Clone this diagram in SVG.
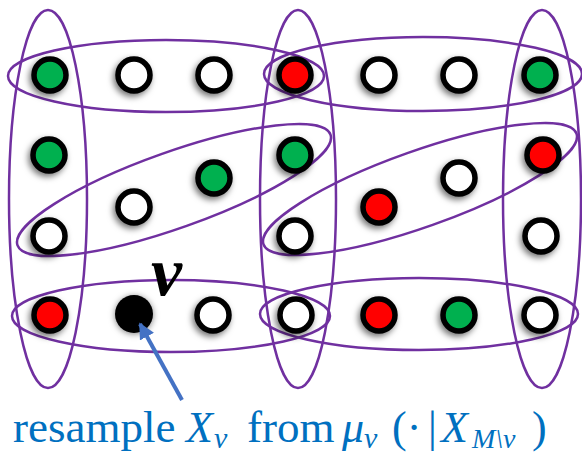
<svg xmlns="http://www.w3.org/2000/svg" width="582" height="455" viewBox="0 0 582 455">
<style>
.edge{fill:none;stroke:#7030A0;stroke-width:2.5}
.n{stroke:#000;stroke-width:5.5;filter:url(#sh)}
.w{fill:#fff}
.g{fill:#00B050}
.r{fill:#FF0000}
.t{font-family:"Liberation Serif",serif;fill:#0070C0}
.i{font-style:italic}
</style>
<defs>
<filter id="sh" x="-60%" y="-60%" width="220%" height="220%">
<feDropShadow dx="-2" dy="3" stdDeviation="3" flood-color="#000" flood-opacity="0.55"/>
</filter>
<filter id="glow" x="-60%" y="-60%" width="220%" height="220%">
<feDropShadow dx="0" dy="1" stdDeviation="3" flood-color="#000" flood-opacity="0.5"/>
</filter>
<marker id="ah" viewBox="0 0 10 10" refX="9" refY="5" markerWidth="4" markerHeight="4" orient="auto" markerUnits="strokeWidth">
<path d="M0,0 L10,5 L0,10 z" fill="#4472C4"/>
</marker>
</defs>
<g id="hyperedges">
<ellipse class="edge" cx="48" cy="199" rx="39" ry="189"/>
<ellipse class="edge" cx="298" cy="199" rx="38" ry="189"/>
<ellipse class="edge" cx="542" cy="199" rx="39" ry="189"/>
<ellipse class="edge" cx="166" cy="76" rx="158" ry="36"/>
<ellipse class="edge" cx="423" cy="74" rx="159" ry="37"/>
<ellipse class="edge" cx="171" cy="316" rx="159" ry="36"/>
<ellipse class="edge" cx="419" cy="314" rx="159" ry="36"/>
<ellipse class="edge" cx="174" cy="190" rx="166" ry="38" transform="rotate(-19.5 174 190)"/>
<ellipse class="edge" cx="420" cy="189" rx="166" ry="38" transform="rotate(-19.5 420 189)"/>
</g>
<g id="n1"><circle class="n g" cx="50" cy="75" r="16"/></g>
<g id="n2"><circle class="n w" cx="134" cy="75" r="16"/></g>
<g id="n3"><circle class="n w" cx="214" cy="75" r="16"/></g>
<g id="n4"><circle class="n r" cx="295" cy="75" r="16"/></g>
<g id="n5"><circle class="n w" cx="379" cy="75" r="16"/></g>
<g id="n6"><circle class="n w" cx="459" cy="75" r="16"/></g>
<g id="n7"><circle class="n g" cx="540" cy="75" r="16"/></g>
<g id="n8"><circle class="n g" cx="49" cy="155" r="16"/></g>
<g id="n9"><circle class="n g" cx="214" cy="178" r="16"/></g>
<g id="n10"><circle class="n g" cx="295" cy="155" r="16"/></g>
<g id="n11"><circle class="n w" cx="459" cy="178" r="16"/></g>
<g id="n12"><circle class="n r" cx="543" cy="155" r="16"/></g>
<g id="n13"><circle class="n w" cx="134" cy="207" r="16"/></g>
<g id="n14"><circle class="n r" cx="379" cy="207" r="16"/></g>
<g id="n15"><circle class="n w" cx="49" cy="236" r="16"/></g>
<g id="n16"><circle class="n w" cx="295" cy="236" r="16"/></g>
<g id="n17"><circle class="n w" cx="541" cy="236" r="16"/></g>
<g id="n18"><circle class="n r" cx="50" cy="315" r="16"/></g>
<g id="v"><circle cx="134" cy="314" r="19" fill="#000" filter="url(#glow)"/>
<text x="151" y="295" font-family="Liberation Serif,serif" font-size="70" font-weight="bold" font-style="italic" fill="#000">v</text></g>
<g id="n20"><circle class="n w" cx="213" cy="315" r="16"/></g>
<g id="n21"><circle class="n w" cx="296" cy="315" r="16"/></g>
<g id="n22"><circle class="n r" cx="379" cy="315" r="16"/></g>
<g id="n23"><circle class="n g" cx="459" cy="315" r="16"/></g>
<g id="n24"><circle class="n w" cx="540" cy="315" r="16"/></g>
<g id="connectors">
<line x1="182" y1="400" x2="140" y2="324" stroke="#4472C4" stroke-width="4" marker-end="url(#ah)"/>
</g>
<g id="caption" class="t">
<text x="13" y="442" font-size="45">resample</text>
<text x="186" y="442" font-size="44" class="i">X</text>
<text x="214" y="448" font-size="30" class="i">v</text>
<text x="247" y="442" font-size="45">from</text>
<text x="342" y="442" font-size="44" class="i">μ</text>
<text x="364" y="448" font-size="30" class="i">v</text>
<text x="392" y="442" font-size="44">(·</text>
<text x="428" y="442" font-size="44">|</text>
<text x="441" y="442" font-size="44" class="i">X</text>
<text x="472" y="448" font-size="28" class="i">M\v</text>
<text x="532" y="442" font-size="44">)</text>
</g>
</svg>
